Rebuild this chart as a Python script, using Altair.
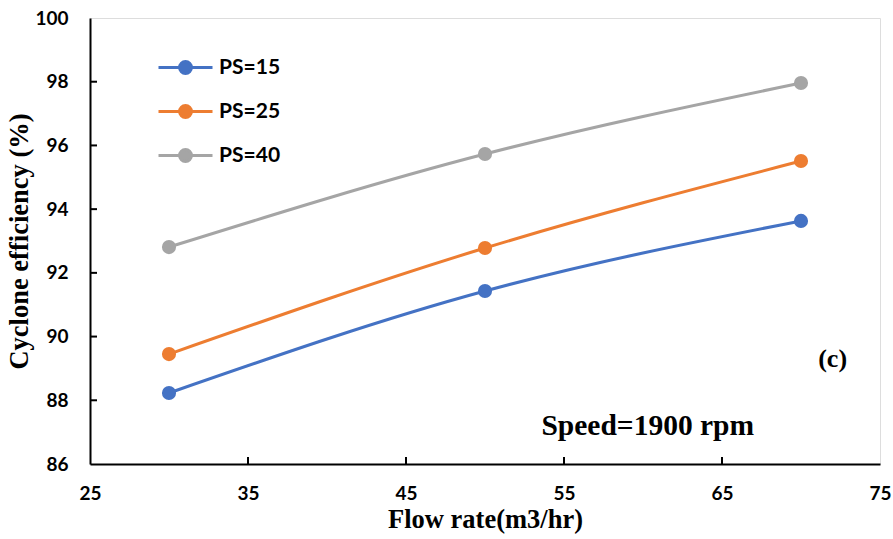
import altair as alt
import pandas as pd

flow = [30, 50, 70]
ps15 = [88.23, 91.43, 93.63]
ps25 = [89.45, 92.78, 95.51]
ps40 = [92.81, 95.73, 97.96]
series_names = ["PS=15", "PS=25", "PS=40"]
colors = ["#4472C4", "#ED7D31", "#A5A5A5"]

x_ticks = [25, 35, 45, 55, 65, 75]
y_ticks = [86, 88, 90, 92, 94, 96, 98, 100]

rows = []
for name, vals in zip(series_names, [ps15, ps25, ps40]):
    for f, v in zip(flow, vals):
        rows.append({"flow": f, "eff": v, "series": name})
df = pd.DataFrame(rows)

notes = pd.DataFrame([{"x": 60.3, "y": 87.2, "label": "Speed=1900 rpm"}])
notes_c = pd.DataFrame([{"x": 72.0, "y": 89.3, "label": "(c)"}])

xs = alt.Scale(domain=[25, 75], nice=False)
ys = alt.Scale(domain=[86, 100], nice=False)

sym = "M-1,0L1,0M0.22,0A0.22,0.22,0,1,1,-0.22,0A0.22,0.22,0,1,1,0.22,0Z"
leg = alt.Legend(
    title=None, orient="none", legendX=67, legendY=21,
    symbolType=sym, symbolSize=2916, symbolStrokeWidth=3,
    labelFont="Lato", labelFontWeight="bold", labelFontSize=21, labelColor="black",
    labelOffset=5, rowPadding=3, padding=0,
)
cscale = alt.Scale(domain=series_names, range=colors)

xaxis = alt.Axis(values=x_ticks, ticks=False, grid=False, domainColor="black", domainWidth=2,
                 labelFont="Lato", labelFontWeight="bold", labelFontSize=19, labelColor="black",
                 labelPadding=20, labelFlush=False, title="Flow rate(m3/hr)", titleFont="Liberation Serif",
                 titleFontSize=26.5, titleFontWeight="bold", titleColor="black", titlePadding=3)
yaxis = alt.Axis(values=y_ticks, ticks=False, grid=False, domainColor="black", domainWidth=2,
                 labelFont="Lato", labelFontWeight="bold", labelFontSize=19, labelColor="black",
                 labelPadding=22, labelFlush=False, title="Cyclone efficiency (%)", titleFont="Liberation Serif",
                 titleFontSize=26.5, titleFontWeight="bold", titleColor="black", titlePadding=1)

lines = alt.Chart(df).mark_line(interpolate="monotone", strokeWidth=3).encode(
    x=alt.X("flow:Q", scale=xs, axis=xaxis),
    y=alt.Y("eff:Q", scale=ys, axis=yaxis),
    stroke=alt.Stroke("series:N", scale=cscale, legend=leg),
)
points = alt.Chart(df).mark_point(filled=True, size=200, opacity=1).encode(
    x="flow:Q", y="eff:Q",
    fill=alt.Fill("series:N", scale=cscale, legend=leg),
)

ytick_df = pd.DataFrame({"t": y_ticks[1:-1]})
xtick_df = pd.DataFrame({"t": x_ticks[1:-1]})
yticks = alt.Chart(ytick_df).mark_rule(color="black", strokeWidth=2).encode(
    y="t:Q", x=alt.value(0), x2=alt.value(7))
xticks = alt.Chart(xtick_df).mark_rule(color="black", strokeWidth=2).encode(
    x="t:Q", y=alt.value(446), y2=alt.value(439))

speed = alt.Chart(notes).mark_text(font="Liberation Serif", fontWeight="bold", fontSize=29.5,
                                   color="black").encode(x="x:Q", y="y:Q", text="label:N")
ctext = alt.Chart(notes_c).mark_text(font="Liberation Serif", fontWeight="bold", fontSize=26,
                                     color="black").encode(x="x:Q", y="y:Q", text="label:N")

chart = alt.layer(lines, points, yticks, xticks, speed, ctext).properties(
    width=790, height=446,
    padding={"left": 90, "top": 18, "right": 13, "bottom": 75},
    autosize=alt.AutoSizeParams(type="none"),
).configure_view(stroke="black", strokeWidth=1.5).configure(background="white")

chart.save("out.html", embed_options={"renderer": "svg", "actions": False})
